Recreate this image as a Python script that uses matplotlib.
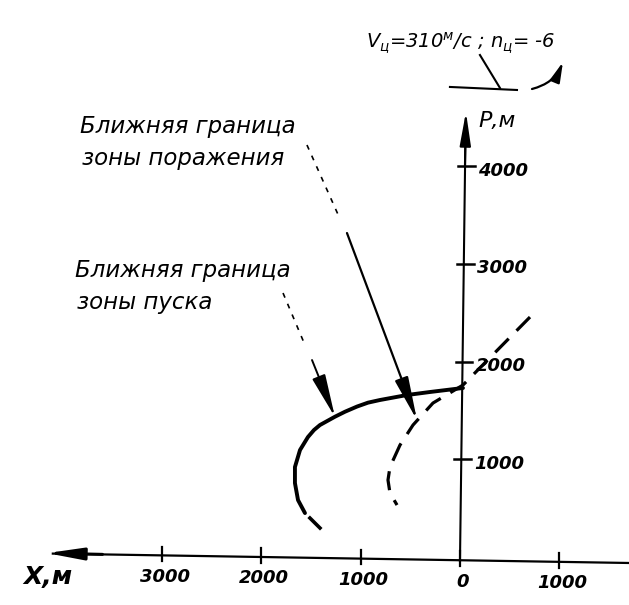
import matplotlib
matplotlib.use("Agg")
from matplotlib import pyplot as plt
from matplotlib.patches import FancyArrowPatch

# tick values (metres); X grows to the left
x_ticks = [3000, 2000, 1000, 0, -1000]
x_tick_labels = ["3000", "2000", "1000", "0", "1000"]
y_ticks = [1000, 2000, 3000, 4000]
y_tick_labels = ["1000", "2000", "3000", "4000"]

# near boundary of the launch zone (solid) + its dashed tail
launch_x = [-30, 302, 534, 806, 926, 1037, 1158, 1259, 1410, 1470, 1531, 1611,
            1662, 1662, 1631, 1561]
launch_y = [1730, 1689, 1658, 1607, 1580, 1540, 1487, 1436, 1351, 1300, 1228, 1095,
            921, 757, 583, 450]
launch_tail_x = [1511, 1410]
launch_tail_y = [399, 297]

# near boundary of the kill zone (dashed)
kill_x = [-705, -30, 272, 473, 604, 705, 725, 705, 634]
kill_y = [2456, 1760, 1576, 1351, 1146, 921, 788, 655, 532]

ink = "black"
font = dict(family="DejaVu Sans", style="italic")

plt.rcParams["mathtext.fontset"] = "custom"
plt.rcParams["mathtext.rm"] = "DejaVu Sans:italic"
plt.rcParams["mathtext.it"] = "DejaVu Sans:italic"

fig = plt.figure(figsize=(6.29, 6.05), dpi=100, facecolor="w")
ax = fig.add_axes([0, 0, 1, 1])
ax.set_xlim(4632, -1702)
ax.set_ylim(-491, 5701)
ax.axis("off")


def arrow(p0, p1, hl=1.6, hw=0.45, lw=1.4, ms=12, cs="arc3"):
    a = FancyArrowPatch(p0, p1, arrowstyle=f"-|>,head_length={hl},head_width={hw}",
                        connectionstyle=cs, mutation_scale=ms, color=ink, lw=lw,
                        shrinkA=0, shrinkB=0)
    ax.add_patch(a)


# axes drawn by hand like on the sheet
ax.plot([-1702, 4100], [-61, 35], color=ink, lw=1.6)
arrow((3600, 27), (4160, 40), hl=1.8, hw=0.3, lw=2.2)
ax.plot([0, -55], [-40, 4300], color=ink, lw=1.5)
arrow((-50, 4000), (-60, 4555), hl=1.7, hw=0.28, lw=1.5)

for xv, lab in zip(x_ticks, x_tick_labels):
    yb = -61 + (xv + 1702) * 96 / 5802
    ax.plot([xv, xv], [yb - 60, yb + 90], color=ink, lw=1.6)
    ax.text(xv - 30, yb - 220, lab, ha="center", va="center", fontsize=13,
            weight="bold", **font)

for yv, lab in zip(y_ticks, y_tick_labels):
    xa = -yv * 55 / 4340
    ax.plot([xa + 70, xa - 100], [yv, yv], color=ink, lw=1.8)
    ax.text(xa - 130, yv - 45, lab, ha="left", va="center", fontsize=13,
            weight="bold", **font)

ax.text(-190, 4460, "Р,м", ha="left", va="center", fontsize=16, **font)
ax.text(4400, -200, "Х,м", ha="left", va="center", fontsize=18,
        weight="bold", **font)

# zone boundaries
ax.plot(launch_x, launch_y, color=ink, lw=2.8, solid_capstyle="round",
        solid_joinstyle="round")
ax.plot(launch_tail_x, launch_tail_y, color=ink, lw=2.6)
ax.plot(kill_x, kill_y, color=ink, lw=2.3, dashes=(6, 3.5))

# captions
ax.text(3830, 4410, "Ближняя граница", ha="left", va="center", fontsize=16.5, **font)
ax.text(3810, 4080, "зоны поражения", ha="left", va="center", fontsize=16.5, **font)
ax.text(3880, 2935, "Ближняя граница", ha="left", va="center", fontsize=16.5, **font)
ax.text(3860, 2600, "зоны пуска", ha="left", va="center", fontsize=16.5, **font)

# leader to kill zone boundary
ax.plot([1541, 1208], [4217, 3460], color=ink, lw=1.2, dashes=(3, 4))
arrow((1138, 3316), (433, 1402), hl=2.2, hw=0.35, lw=1.6)
# leader to launch zone boundary
ax.plot([1782, 1561], [2702, 2170], color=ink, lw=1.2, dashes=(3, 4))
arrow((1490, 2016), (1259, 1433), hl=2.2, hw=0.35, lw=1.4)

# target parameters note
ax.text(950, 5260, r"$V_{ц}$=310$^{м}$/с ; $n_{ц}$= -6", ha="left", va="center",
        fontsize=14, **font)
ax.plot([-201, -403], [5138, 4800], color=ink, lw=1.5)
ax.plot([101, -574], [4811, 4780], color=ink, lw=1.5)
arrow((-725, 4790), (-1037, 5066), hl=1.0, hw=0.25, lw=1.6, ms=12,
      cs="arc3,rad=0.25")

plt.savefig("out.png", dpi=100, facecolor="w")
